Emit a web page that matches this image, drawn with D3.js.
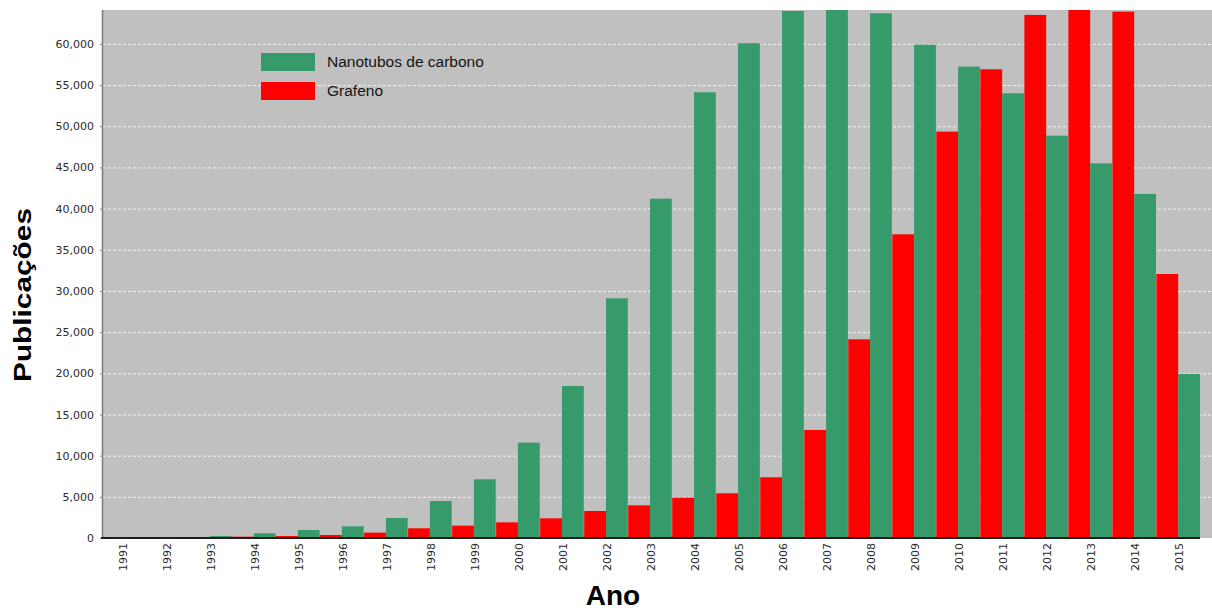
<!DOCTYPE html>
<html>
<head>
<meta charset="utf-8">
<script src="https://cdn.jsdelivr.net/npm/d3@7"></script>
<style>
    body { margin: 0; background: #fff; }
    #chart { width: 1212px; height: 610px; }
    .y-axis text, .x-axis text { font-family: "DejaVu Sans", sans-serif; font-size: 11px; fill: #2a2a2a; }
</style>
</head>
<body>
<div id="chart"></div>
<script>
// years on the x axis
const years = ['1991','1992','1993','1994','1995','1996','1997','1998','1999','2000','2001','2002','2003',
    '2004','2005','2006','2007','2008','2009','2010','2011','2012','2013','2014','2015'];

// publications per year
const nanotubos = [0, 0, 240, 570, 970, 1420, 2430, 4490, 7130, 11580, 18460, 29110, 41210,
    54130, 60080, 64000, 65500, 63720, 59910, 57240, 54010, 48860, 45500, 41780, 19920];
const grafeno = [0, 0, 0, 160, 240, 360, 650, 1180, 1500, 1900, 2390, 3280, 3970,
    4900, 5430, 7370, 13120, 24130, 36880, 49350, 56920, 63520, 64800, 63920, 32060];

// series order inside each year group (left to right) and legend order
const seriesKeys = ['grafeno', 'nanotubos'];
const legendKeys = ['nanotubos', 'grafeno'];
const seriesLabels = {nanotubos: 'Nanotubos de carbono', grafeno: 'Grafeno'};
const seriesColors = {nanotubos: '#379a6a', grafeno: '#ff0000'};

// y tick values
const yTicks = [0, 5000, 10000, 15000, 20000, 25000, 30000, 35000, 40000, 45000, 50000, 55000, 60000];
const yMax = 64120;

class BarVis {
    constructor(parentElement) {
        this.parentElement = parentElement;
        this.displayData = years.map((y, i) => ({year: y, nanotubos: nanotubos[i], grafeno: grafeno[i]}));
        this.initVis();
    }

    initVis() {
        let vis = this;

        vis.plot = {left: 103, right: 1212, top: 10, bottom: 538};

        vis.svg = d3.select("#" + vis.parentElement).append("svg")
            .attr("width", 1212)
            .attr("height", 610);

        // gray plot background
        vis.svg.append("rect")
            .attr("x", vis.plot.left)
            .attr("y", vis.plot.top)
            .attr("width", vis.plot.right - vis.plot.left)
            .attr("height", vis.plot.bottom - vis.plot.top)
            .attr("fill", "#c0c0c0");

        vis.svg.append("clipPath").attr("id", "plot-clip")
            .append("rect")
            .attr("x", vis.plot.left)
            .attr("y", vis.plot.top)
            .attr("width", vis.plot.right - vis.plot.left)
            .attr("height", vis.plot.bottom - vis.plot.top);

        // scales
        vis.xScale = d3.scaleBand()
            .domain(years)
            .range([100, 1200])
            .paddingInner(0.01);

        vis.xInner = d3.scaleBand()
            .domain(seriesKeys)
            .range([0, vis.xScale.bandwidth()]);

        vis.yScale = d3.scaleLinear()
            .domain([0, yMax])
            .range([vis.plot.bottom, vis.plot.top]);

        vis.updateVis();
    }

    updateVis() {
        let vis = this;

        // dashed grid lines
        vis.svg.append("g").attr("class", "grid")
            .selectAll("line")
            .data(yTicks.filter(d => d > 0))
            .enter().append("line")
            .attr("x1", vis.plot.left)
            .attr("x2", vis.plot.right)
            .attr("y1", d => vis.yScale(d) + 0.5)
            .attr("y2", d => vis.yScale(d) + 0.5)
            .attr("stroke", "#f4f4f4")
            .attr("stroke-width", 1)
            .attr("stroke-dasharray", "3,2");

        // bars
        let groups = vis.svg.append("g")
            .attr("clip-path", "url(#plot-clip)")
            .selectAll(".year-group")
            .data(vis.displayData)
            .enter().append("g")
            .attr("class", "year-group")
            .attr("transform", d => `translate(${vis.xScale(d.year)},0)`);

        groups.selectAll("rect")
            .data(d => seriesKeys.map(k => ({key: k, value: d[k]})))
            .enter().append("rect")
            .attr("x", d => vis.xInner(d.key))
            .attr("width", vis.xInner.bandwidth())
            .attr("y", d => vis.yScale(d.value))
            .attr("height", d => vis.plot.bottom - vis.yScale(d.value))
            .attr("fill", d => seriesColors[d.key]);

        // y axis
        let yAxis = d3.axisLeft(vis.yScale)
            .tickValues(yTicks)
            .tickFormat(d3.format(","))
            .tickSize(3)
            .tickPadding(6);

        vis.svg.append("g")
            .attr("class", "y-axis")
            .attr("transform", `translate(${vis.plot.left},0)`)
            .call(yAxis)
            .call(g => g.select(".domain").remove())
            .call(g => g.selectAll(".tick line").attr("stroke", "#888"));

        // left axis line
        vis.svg.append("line")
            .attr("x1", vis.plot.left - 0.5).attr("x2", vis.plot.left - 0.5)
            .attr("y1", vis.plot.top).attr("y2", vis.plot.bottom)
            .attr("stroke", "#7a7a7a")
            .attr("stroke-width", 1.5);

        // x axis with rotated year labels
        let xAxis = d3.axisBottom(vis.xScale).tickSize(0);

        vis.svg.append("g")
            .attr("class", "x-axis")
            .attr("transform", `translate(1,${vis.plot.bottom})`)
            .call(xAxis)
            .call(g => g.select(".domain").remove())
            .selectAll("text")
            .attr("transform", "rotate(-90)")
            .attr("x", -5)
            .attr("y", 0)
            .attr("dy", "0.35em")
            .style("text-anchor", "end");

        // bottom axis line
        vis.svg.append("line")
            .attr("x1", vis.plot.left - 2).attr("x2", 1200)
            .attr("y1", vis.plot.bottom).attr("y2", vis.plot.bottom)
            .attr("stroke", "#1e1e1e")
            .attr("stroke-width", 2);

        // legend
        let legend = vis.svg.append("g").attr("class", "legend")
            .selectAll("g")
            .data(legendKeys)
            .enter().append("g")
            .attr("transform", (d, i) => `translate(261,${53 + i * 29})`);

        legend.append("rect")
            .attr("width", 54)
            .attr("height", 18)
            .attr("fill", d => seriesColors[d]);

        legend.append("text")
            .attr("x", 66)
            .attr("y", 14)
            .style("font-family", "'Liberation Sans', Arial, sans-serif")
            .style("font-size", "15.5px")
            .style("fill", "#151515")
            .text(d => seriesLabels[d]);

        // axis titles
        vis.svg.append("text")
            .attr("transform", "translate(31,295) rotate(-90)")
            .attr("text-anchor", "middle")
            .attr("textLength", 174)
            .attr("lengthAdjust", "spacingAndGlyphs")
            .style("font-family", "'Liberation Sans', Arial, sans-serif")
            .style("font-weight", "bold")
            .style("font-size", "23px")
            .style("fill", "#000")
            .text("Publicações");

        vis.svg.append("text")
            .attr("x", 613)
            .attr("y", 605)
            .attr("text-anchor", "middle")
            .style("font-family", "'Liberation Sans', Arial, sans-serif")
            .style("font-weight", "bold")
            .style("font-size", "28px")
            .style("fill", "#000")
            .text("Ano");
    }
}

new BarVis("chart");
</script>
</body>
</html>
